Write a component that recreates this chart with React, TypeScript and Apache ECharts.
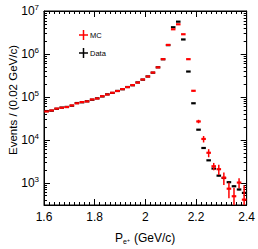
import React, { useEffect, useRef } from "react";
import * as echarts from "echarts";

const binWidth = 0.02;
const binCenters = [
  1.61, 1.63, 1.65, 1.67, 1.69, 1.71, 1.73, 1.75, 1.77, 1.79,
  1.81, 1.83, 1.85, 1.87, 1.89, 1.91, 1.93, 1.95, 1.97, 1.99,
  2.01, 2.03, 2.05, 2.07, 2.09, 2.11, 2.13, 2.15, 2.17, 2.19,
  2.21, 2.23, 2.25, 2.27, 2.29, 2.31, 2.33, 2.35, 2.37, 2.39,
];
const mcValues = [
  45500, 48000, 53000, 55500, 57600, 62800, 70500, 75300, 78000, 86500,
  91300, 103000, 113000, 124000, 136000, 151000, 168000, 187000, 215000, 253000,
  297000, 367000, 485000, 753000, 1620000, 3750000, 4900000, 2870000, 753000, 138000,
  26600, 10400, 4950, 2400, 2050, 1300, 720, 480, 1000, 400,
];
const mcErrors = [
  600, 620, 650, 670, 690, 720, 760, 790, 800, 850,
  870, 920, 970, 1010, 1060, 1120, 1180, 1250, 1340, 1450,
  1570, 1750, 2000, 2500, 3700, 5600, 6400, 5000, 15000, 5000,
  2500, 1800, 1060, 470, 545, 420, 290, 273, 266, 460,
];
const dataValues = [
  46500, 47500, 52500, 56000, 58000, 62000, 71500, 74500, 78500, 85500,
  92000, 102000, 114000, 123000, 137000, 150000, 169000, 186000, 216000, 251000,
  298000, 365000, 487000, 750000, 1600000, 4180000, 5640000, 2170000, 388000, 70600,
  17100, 6400, 3300, 2120, 1450, 1280, 1020, 820, 690, 575,
];
const dataErrors = [
  216, 218, 229, 237, 241, 249, 267, 273, 280, 292,
  303, 319, 338, 351, 370, 387, 411, 431, 465, 501,
  546, 604, 698, 866, 1265, 2044, 2375, 1473, 623, 266,
  131, 80, 57, 46, 38, 36, 32, 29, 26, 24,
];
const xTickLabels = ["1.6", "1.8", "2", "2.2", "2.4"];
const yDecades = [1e3, 1e4, 1e5, 1e6, 1e7];
const yMin = 300;
const yMax = 1e7;

function buildYTicks() {
  const out: number[][] = [];
  for (const d of yDecades) {
    out.push([1.6, d, 1]);
    for (let k = 2; k <= 9; k++) {
      const v = (d / 10) * k;
      if (v >= yMin && v < d) out.push([1.6, v, 0]);
    }
  }
  return out;
}

function errRender(color: string, hw: number, vw: number) {
  return (params: any, api: any) => {
    const x = api.value(0);
    const v = api.value(1);
    const e = api.value(2);
    const l = api.coord([x - binWidth * 0.45, v]);
    const r = api.coord([x + binWidth * 0.45, v]);
    const t = api.coord([x, v + e]);
    const b = api.coord([x, Math.max(v - e, 1)]);
    return {
      type: "group",
      children: [
        { type: "line", shape: { x1: t[0], y1: t[1], x2: b[0], y2: b[1] }, style: { stroke: color, lineWidth: vw } },
        { type: "line", shape: { x1: l[0], y1: l[1], x2: r[0], y2: r[1] }, style: { stroke: color, lineWidth: hw } },
      ],
    };
  };
}

export default function App() {
  const ref = useRef<HTMLDivElement>(null);
  useEffect(() => {
    if (!ref.current) return;
    const chart = echarts.init(ref.current, undefined, { renderer: "svg" });
    const font = "Liberation Sans, Arial, Helvetica, sans-serif";
    const tickData = buildYTicks();
    const option: any = {
      animation: false,
      backgroundColor: "#fff",
      textStyle: { fontFamily: font },
      grid: { left: 44, right: 10, top: 11, bottom: 44, show: true, borderColor: "#000", borderWidth: 1, backgroundColor: "transparent" },
      xAxis: [
        {
          type: "value", min: 1.6, max: 2.4, interval: 0.2, position: "bottom",
          axisLine: { show: true, lineStyle: { color: "#000", width: 1 } },
          axisTick: { show: true, inside: true, length: 6, lineStyle: { color: "#000" } },
          minorTick: { show: true, splitNumber: 10, length: 3, lineStyle: { color: "#000" } },
          splitLine: { show: false },
          axisLabel: {
            color: "#000", fontSize: 12, fontFamily: font, margin: 6,
            formatter: (v: number) => {
              const idx = Math.round((v - 1.6) / 0.2);
              return xTickLabels[idx] ?? "";
            },
          },
        },
        {
          type: "value", min: 1.6, max: 2.4, interval: 0.2, position: "top",
          axisLine: { show: true, lineStyle: { color: "#000", width: 1 } },
          axisTick: { show: true, inside: true, length: 6, lineStyle: { color: "#000" } },
          minorTick: { show: true, splitNumber: 10, length: 3, lineStyle: { color: "#000" } },
          splitLine: { show: false },
          axisLabel: { show: false },
        },
      ],
      yAxis: [
        {
          type: "log", logBase: 10, min: yMin, max: yMax, position: "left",
          axisLine: { show: true, lineStyle: { color: "#000", width: 1 } },
          axisTick: { show: false },
          splitLine: { show: false },
          axisLabel: {
            color: "#000", margin: 5, fontFamily: font,
            formatter: (v: number) => {
              const e = Math.log10(v);
              const r = Math.round(e);
              if (Math.abs(e - r) > 1e-6) return "";
              return `{b|10}{s|${r}}`;
            },
            rich: {
              b: { fontSize: 12, lineHeight: 15, fontFamily: font, color: "#000" },
              s: { fontSize: 8, lineHeight: 15, verticalAlign: "top", fontFamily: font, color: "#000" },
            },
          },
        },
        {
          type: "log", logBase: 10, min: yMin, max: yMax, position: "right",
          axisLine: { show: true, lineStyle: { color: "#000", width: 1 } },
          axisTick: { show: false },
          splitLine: { show: false },
          axisLabel: { show: false },
        },
      ],
      series: [
        {
          type: "custom", name: "ticks", xAxisIndex: 0, yAxisIndex: 0, silent: true,
          data: tickData,
          renderItem: (params: any, api: any) => {
            const cs = params.coordSys;
            const p = api.coord([api.value(0), api.value(1)]);
            const len = api.value(2) === 1 ? 6 : 3;
            const y = Math.round(p[1]) + 0.5;
            return {
              type: "group",
              children: [
                { type: "line", shape: { x1: cs.x, y1: y, x2: cs.x + len, y2: y }, style: { stroke: "#000", lineWidth: 1 } },
                { type: "line", shape: { x1: cs.x + cs.width, y1: y, x2: cs.x + cs.width - len, y2: y }, style: { stroke: "#000", lineWidth: 1 } },
              ],
            };
          },
        },
        {
          type: "custom", name: "Data", xAxisIndex: 0, yAxisIndex: 0, clip: true,
          data: binCenters.map((x, i) => [x, dataValues[i], dataErrors[i]]),
          renderItem: errRender("#000", 2.2, 1.5),
        },
        {
          type: "custom", name: "MC", xAxisIndex: 0, yAxisIndex: 0, clip: true,
          data: binCenters.map((x, i) => [x, mcValues[i], mcErrors[i]]),
          renderItem: errRender("#ff0000", 2.2, 1.5),
        },
      ],
      graphic: [
        { type: "line", shape: { x1: 79, y1: 35, x2: 88, y2: 35 }, style: { stroke: "#ff0000", lineWidth: 1.5 } },
        { type: "line", shape: { x1: 83.5, y1: 30, x2: 83.5, y2: 40 }, style: { stroke: "#ff0000", lineWidth: 1.5 } },
        { type: "text", x: 90, y: 35, style: { text: "MC", fontSize: 7.5, fontFamily: font, fill: "#000", verticalAlign: "middle" } },
        { type: "line", shape: { x1: 79, y1: 53, x2: 88, y2: 53 }, style: { stroke: "#000", lineWidth: 1.5 } },
        { type: "line", shape: { x1: 83.5, y1: 48, x2: 83.5, y2: 58 }, style: { stroke: "#000", lineWidth: 1.5 } },
        { type: "text", x: 90, y: 53, style: { text: "Data", fontSize: 7.5, fontFamily: font, fill: "#000", verticalAlign: "middle" } },
        {
          type: "text", x: 13, y: 100, rotation: Math.PI / 2,
          style: { text: "Events / (0.02 GeV/c)", fontSize: 11.5, fontFamily: font, fill: "#000", align: "center", verticalAlign: "middle" },
        },
        { type: "text", x: 115, y: 238, style: { text: "P", fontSize: 12, fontFamily: font, fill: "#000", verticalAlign: "middle" } },
        { type: "text", x: 123, y: 241.5, style: { text: "e", fontSize: 7, fontFamily: font, fill: "#000", verticalAlign: "middle" } },
        { type: "text", x: 127, y: 239.5, style: { text: "+", fontSize: 5, fontFamily: font, fill: "#000", verticalAlign: "middle" } },
        { type: "text", x: 134, y: 238, style: { text: "(GeV/c)", fontSize: 12, fontFamily: font, fill: "#000", verticalAlign: "middle" } },
      ],
    };
    chart.setOption(option);
    return () => chart.dispose();
  }, []);
  return <div ref={ref} style={{ position: "fixed", left: 0, top: 0, width: 258, height: 249 }} />;
}
